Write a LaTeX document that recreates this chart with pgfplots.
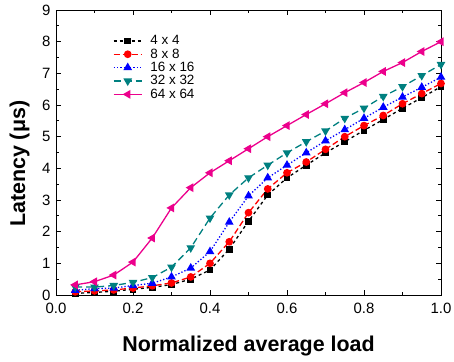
\documentclass[border=0pt]{standalone}
\usepackage{pgfplots}
\pgfplotsset{compat=1.18}
\usepackage{fontspec}
\setmainfont{Liberation Sans}
\definecolor{teal32}{RGB}{0,128,128}
\begin{document}
\begin{tikzpicture}[x=1bp,y=1bp]
\useasboundingbox (-56bp,-67bp) rectangle (398bp,295bp);
\begin{axis}[
  scale only axis,
  width=385bp, height=285bp,
  xmin=0, xmax=1, ymin=0, ymax=9,
  xtick={0,0.2,...,1.0},
  minor xtick={0.1,0.3,0.5,0.7,0.9},
  ytick={0,1,...,9},
  minor ytick={0.5,1.5,...,8.5},
  tick align=inside,
  major tick length=5bp, minor tick length=3bp,
  tick style={black, line width=0.8pt},
  axis line style={line width=0.9pt},
  xticklabel style={/pgf/number format/fixed, /pgf/number format/fixed zerofill, /pgf/number format/precision=1, yshift=-5bp},
  yticklabel style={xshift=-2bp},
  /pgf/number format/assume math mode=true,
  ticklabel style={font=\fontsize{15}{17}\selectfont},
  xlabel={Normalized average load},
  ylabel={Latency (μs)},
  every axis x label/.style={at={(axis description cs:0.5,-0.2)}, anchor=base, font=\fontsize{21.5}{24}\selectfont\bfseries},
  every axis y label/.style={at={(axis description cs:-0.0805,0.46)}, rotate=90, anchor=base, font=\fontsize{21.5}{24}\selectfont\bfseries},
  legend style={draw=none, fill=none, at={(0.14,0.925)}, anchor=north west,
    font=\fontsize{13.5}{15}\selectfont, row sep=-1.5bp},
  legend cell align=left,
  legend image code/.code={\draw[mark repeat=2,mark phase=2] plot coordinates {(0bp,0bp) (14bp,0bp) (28bp,0bp)};},
  every axis plot/.append style={line width=1.3pt},
  clip=false,
]
\addplot[black, dashed, mark=square*, mark size=2.8pt, mark options={solid}] coordinates {
(0.05,0.05)(0.10,0.08)(0.15,0.12)(0.20,0.18)(0.25,0.24)(0.30,0.33)(0.35,0.50)(0.40,0.79)(0.45,1.45)(0.50,2.33)
(0.55,3.16)(0.60,3.70)(0.65,4.10)(0.70,4.49)(0.75,4.84)(0.80,5.20)(0.85,5.54)(0.90,5.90)(0.95,6.23)(1.00,6.58)};
\addlegendentry{\hspace{6bp}4 x 4}
\addplot[red, dash pattern=on 6pt off 3pt, mark=*, mark size=3.2pt, mark options={solid}] coordinates {
(0.05,0.10)(0.10,0.13)(0.15,0.16)(0.20,0.22)(0.25,0.29)(0.30,0.38)(0.35,0.57)(0.40,1.00)(0.45,1.68)(0.50,2.60)
(0.55,3.35)(0.60,3.86)(0.65,4.20)(0.70,4.60)(0.75,5.00)(0.80,5.35)(0.85,5.67)(0.90,6.04)(0.95,6.36)(1.00,6.68)};
\addlegendentry{\hspace{6bp}8 x 8}
\addplot[blue, dotted, mark=triangle*, mark size=3.8pt, mark options={solid}] coordinates {
(0.05,0.15)(0.10,0.20)(0.15,0.22)(0.20,0.30)(0.25,0.37)(0.30,0.57)(0.35,0.85)(0.40,1.37)(0.45,2.30)(0.50,3.13)
(0.55,3.70)(0.60,4.10)(0.65,4.49)(0.70,4.87)(0.75,5.22)(0.80,5.58)(0.85,5.93)(0.90,6.25)(0.95,6.56)(1.00,6.88)};
\addlegendentry{\hspace{6bp}16 x 16}
\addplot[teal32, dash pattern=on 7pt off 4pt, mark=triangle*, mark size=3.8pt, mark options={solid, rotate=180}] coordinates {
(0.05,0.25)(0.10,0.25)(0.15,0.30)(0.20,0.40)(0.25,0.55)(0.30,0.88)(0.35,1.49)(0.40,2.43)(0.45,3.16)(0.50,3.70)
(0.55,4.10)(0.60,4.49)(0.65,4.84)(0.70,5.18)(0.75,5.58)(0.80,5.90)(0.85,6.27)(0.90,6.58)(0.95,6.93)(1.00,7.28)};
\addlegendentry{\hspace{6bp}32 x 32}
\addplot[magenta, solid, mark=triangle*, mark size=3.8pt, mark options={solid, rotate=90}] coordinates {
(0.05,0.32)(0.10,0.42)(0.15,0.63)(0.20,1.04)(0.25,1.80)(0.30,2.75)(0.35,3.39)(0.40,3.86)(0.45,4.24)(0.50,4.62)
(0.55,5.00)(0.60,5.35)(0.65,5.70)(0.70,6.04)(0.75,6.39)(0.80,6.71)(0.85,7.06)(0.90,7.34)(0.95,7.69)(1.00,8.00)};
\addlegendentry{\hspace{6bp}64 x 64}
\end{axis}
\end{tikzpicture}
\end{document}
